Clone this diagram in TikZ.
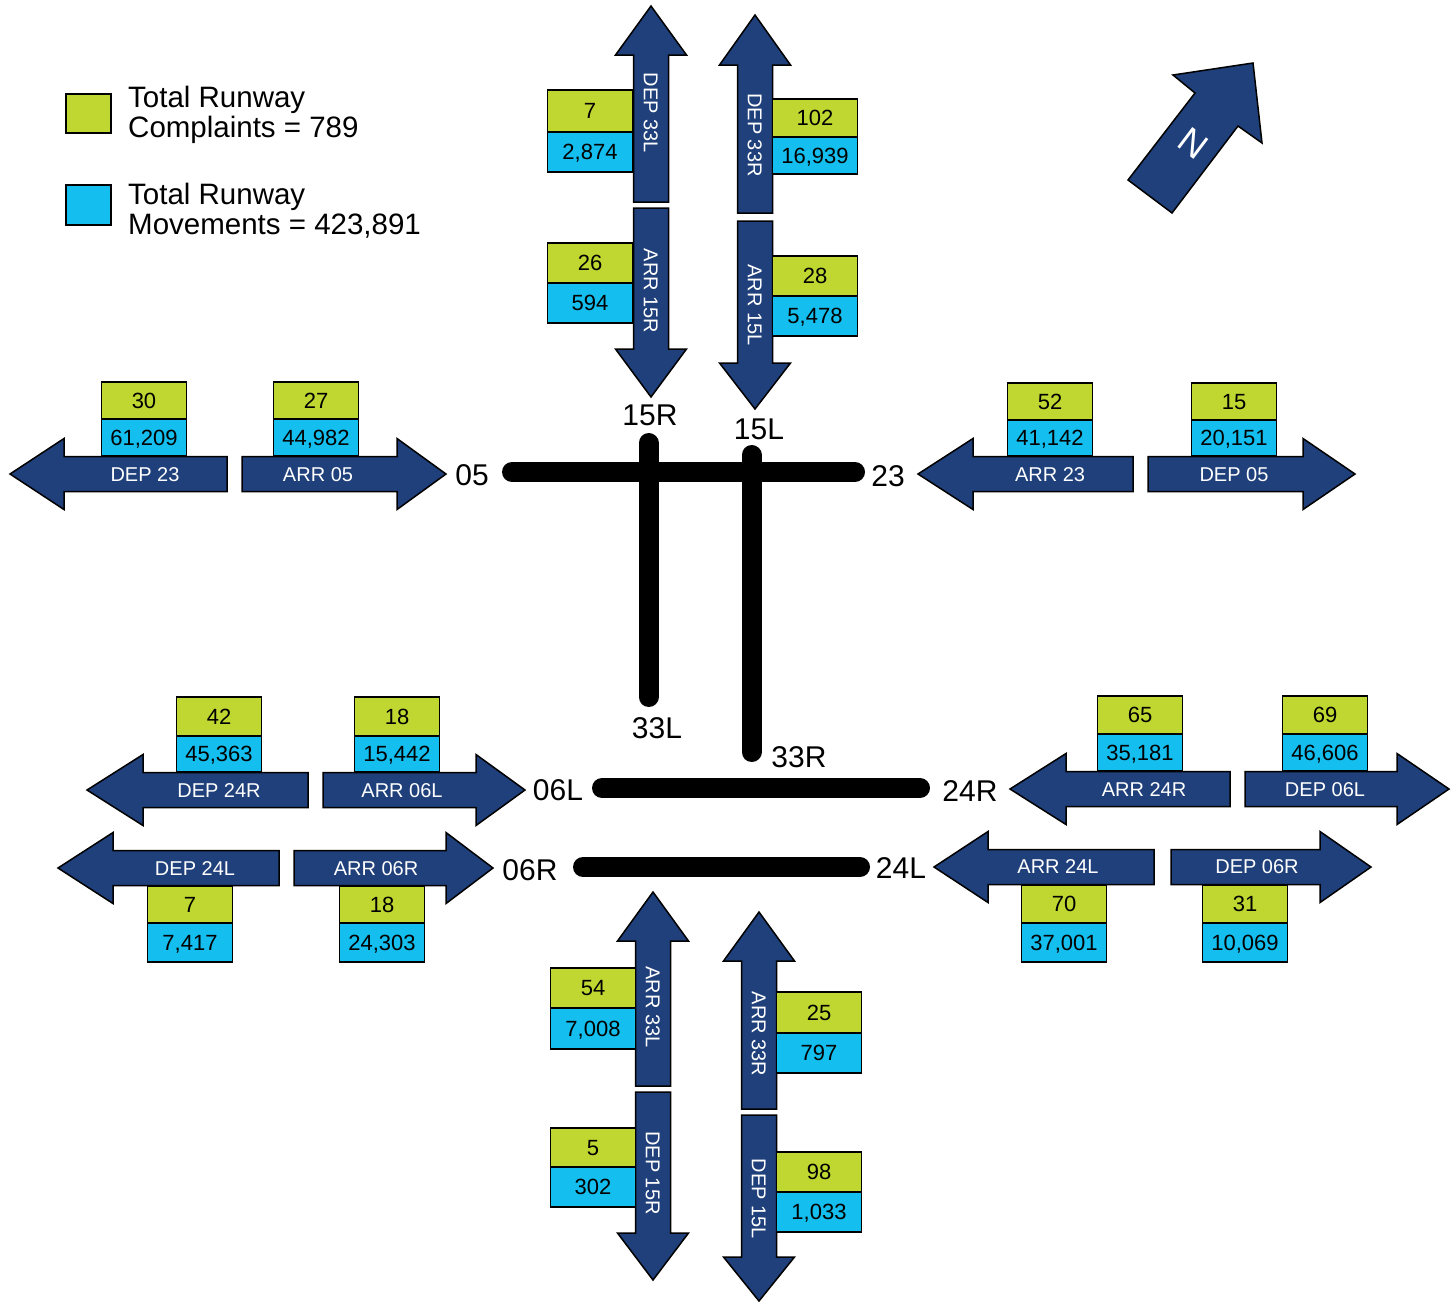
\documentclass[tikz,border=0pt]{standalone}
\usepackage{fontspec}
\setmainfont{Liberation Sans}
\definecolor{navy}{RGB}{31,64,122}
\definecolor{lime}{RGB}{191,215,48}
\definecolor{sky}{RGB}{20,190,238}
\newcommand{\uarr}[4]{\draw[arr] (#1-17.5,#4) -- (#1-17.5,#3) -- (#1-35.5,#3) -- (#1,#2) -- (#1+35.5,#3) -- (#1+17.5,#3) -- (#1+17.5,#4) -- cycle;}
\newcommand{\darr}[4]{\draw[arr] (#1-17.5,#2) -- (#1-17.5,#3) -- (#1-35.5,#3) -- (#1,#4) -- (#1+35.5,#3) -- (#1+17.5,#3) -- (#1+17.5,#2) -- cycle;}
\newcommand{\rarr}[4]{\draw[arr] (#1,#4-17.5) -- (#2,#4-17.5) -- (#2,#4-35.5) -- (#3,#4) -- (#2,#4+35.5) -- (#2,#4+17.5) -- (#1,#4+17.5) -- cycle;}
\newcommand{\larr}[4]{\draw[arr] (#3,#4-17.5) -- (#2,#4-17.5) -- (#2,#4-35.5) -- (#1,#4) -- (#2,#4+35.5) -- (#2,#4+17.5) -- (#3,#4+17.5) -- cycle;}
\newcommand{\pair}[7]{%
  \node[gbox, minimum height={(#4-#3)*1pt}] (#1g) at (#2,{(#3+#4)/2}) {#6};
  \node[cbox, minimum height={(#5-#4)*1pt}] (#1c) at (#2,{(#4+#5)/2}) {#7};}
\begin{document}
\begin{tikzpicture}[x=1pt,y=-1pt,
  arr/.style={fill=navy, draw=black, line width=1.5pt, line join=miter},
  albl/.style={text=white, font=\fontsize{20}{24}\selectfont, inner sep=0pt, text height=14.3pt, text depth=0pt},
  gbox/.style={draw=black, line width=1.5pt, fill=lime, minimum width=85pt, inner sep=0pt, font=\fontsize{22}{26}\selectfont, text height=15.8pt, text depth=0pt},
  cbox/.style={gbox, fill=sky},
  rwy/.style={line width=20pt, line cap=round},
  rlbl/.style={font=\fontsize{30}{36}\selectfont, inner sep=0pt, text height=21.5pt, text depth=0pt},
  leg/.style={font=\fontsize{29.5}{30}\selectfont, inner sep=0pt, align=left, anchor=west}]
\useasboundingbox (0,0) rectangle (1455,1302);
% legend
\node[gbox, minimum width=45pt, minimum height=39pt] (lg) at (88.5,113.5) {};
\node[leg] (lgt) at (128,115) {Total Runway\\Complaints = 789};
\node[cbox, minimum width=45pt, minimum height=40pt] (lc) at (88.5,205) {};
\node[leg] (lct) at (128,211) {Total Runway\\Movements = 423,891};
% north arrow
\draw[arr] (1128,180) -- (1172,213) -- (1238,126) -- (1262,143) -- (1253,63) -- (1173,75) -- (1195,93) -- cycle;
\node[text=white, font=\fontsize{36}{40}\selectfont, inner sep=0pt, rotate=-37] (north) at (1193,143) {N};
% runways
\coordinate (p05) at (512,472); \coordinate (p23) at (855,472);
\coordinate (p15R) at (648.5,443); \coordinate (p33L) at (648.5,697);
\coordinate (p15L) at (751.5,455); \coordinate (p33R) at (751.5,752);
\coordinate (p06L) at (602,788); \coordinate (p24R) at (920,788);
\coordinate (p06R) at (583,867); \coordinate (p24L) at (860,867);
\draw[rwy] (p05) -- (p23);
\draw[rwy] (p15R) -- (p33L);
\draw[rwy] (p15L) -- (p33R);
\draw[rwy] (p06L) -- (p24R);
\draw[rwy] (p06R) -- (p24L);
\node[rlbl] (t15R) at (650,415) {15R};
\node[rlbl] (t15L) at (759,429) {15L};
\node[rlbl] (t05) at (472,475) {05};
\node[rlbl] (t23) at (888,476) {23};
\node[rlbl] (t33L) at (657,728) {33L};
\node[rlbl] (t33R) at (799,757) {33R};
\node[rlbl] (t06L) at (558,790) {06L};
\node[rlbl] (t24R) at (970,791) {24R};
\node[rlbl] (t06R) at (530,870) {06R};
\node[rlbl] (t24L) at (901,868) {24L};
% top verticals
\uarr{651}{6}{55}{202}
\node[albl, rotate=-90] (aD33L) at (651,113) {DEP 33L};
\pair{a}{590}{90}{132}{172}{7}{2,874}
\darr{651}{208}{349}{397}
\node[albl, rotate=-90] (aA15R) at (651,291) {ARR 15R};
\pair{b}{590}{243}{283}{323}{26}{594}
\uarr{755}{15}{65}{213}
\node[albl, rotate=-90] (aD33R) at (755,135) {DEP 33R};
\pair{c}{815}{99}{137}{174}{102}{16,939}
\darr{755}{221}{363}{409}
\node[albl, rotate=-90] (aA15L) at (755,305) {ARR 15L};
\pair{d}{815}{256}{296}{336}{28}{5,478}
% bottom verticals
\uarr{653}{892}{941}{1086}
\node[albl, rotate=-90] (aA33L) at (653,1007) {ARR 33L};
\pair{e}{593}{968}{1008}{1049}{54}{7,008}
\darr{653}{1092}{1233}{1280}
\node[albl, rotate=-90] (aD15R) at (653,1173) {DEP 15R};
\pair{f}{593}{1128}{1167}{1207}{5}{302}
\uarr{759}{912}{961}{1109}
\node[albl, rotate=-90] (aA33R) at (759,1034) {ARR 33R};
\pair{g}{819}{992}{1033}{1073}{25}{797}
\darr{759}{1115}{1257}{1301}
\node[albl, rotate=-90] (aD15L) at (759,1199) {DEP 15L};
\pair{h}{819}{1152}{1192}{1232}{98}{1,033}
% upper horizontals
\larr{10}{64}{227}{474}
\node[albl] (aD23) at (145,474) {DEP 23};
\pair{i}{144}{382}{419}{456}{30}{61,209}
\rarr{242}{397}{446}{474}
\node[albl] (aA05) at (318,474) {ARR 05};
\pair{j}{316}{382}{419}{456}{27}{44,982}
\larr{918}{973}{1133}{474}
\node[albl] (aA23) at (1050,474) {ARR 23};
\pair{k}{1050}{383}{420}{456}{52}{41,142}
\rarr{1148}{1303}{1355}{474}
\node[albl] (aD05) at (1234,474) {DEP 05};
\pair{l}{1234}{383}{420}{456}{15}{20,151}
% lower left
\larr{87}{143}{308}{790}
\node[albl] (aD24R) at (219,790) {DEP 24R};
\pair{m}{219}{697}{736}{772}{42}{45,363}
\rarr{323}{476}{525}{790}
\node[albl] (aA06L) at (402,790) {ARR 06L};
\pair{n}{397}{697}{736}{772}{18}{15,442}
\larr{58}{113}{279}{868}
\node[albl] (aD24L) at (195,868) {DEP 24L};
\pair{o}{190}{886}{923}{962}{7}{7,417}
\rarr{294}{446}{493}{868}
\node[albl] (aA06R) at (376,868) {ARR 06R};
\pair{p}{382}{886}{923}{962}{18}{24,303}
% lower right
\larr{1010}{1066}{1230}{789}
\node[albl] (aA24R) at (1144,789) {ARR 24R};
\pair{q}{1140}{696}{734}{771}{65}{35,181}
\rarr{1245}{1397}{1449}{789}
\node[albl] (aD06L) at (1325,789) {DEP 06L};
\pair{r}{1325}{696}{734}{771}{69}{46,606}
\larr{934}{988}{1154}{867}
\node[albl] (aA24L) at (1058,866) {ARR 24L};
\pair{s}{1064}{885}{923}{962}{70}{37,001}
\rarr{1171}{1320}{1371}{867}
\node[albl] (aD06R) at (1257,866) {DEP 06R};
\pair{t}{1245}{885}{923}{962}{31}{10,069}
\end{tikzpicture}
\end{document}
